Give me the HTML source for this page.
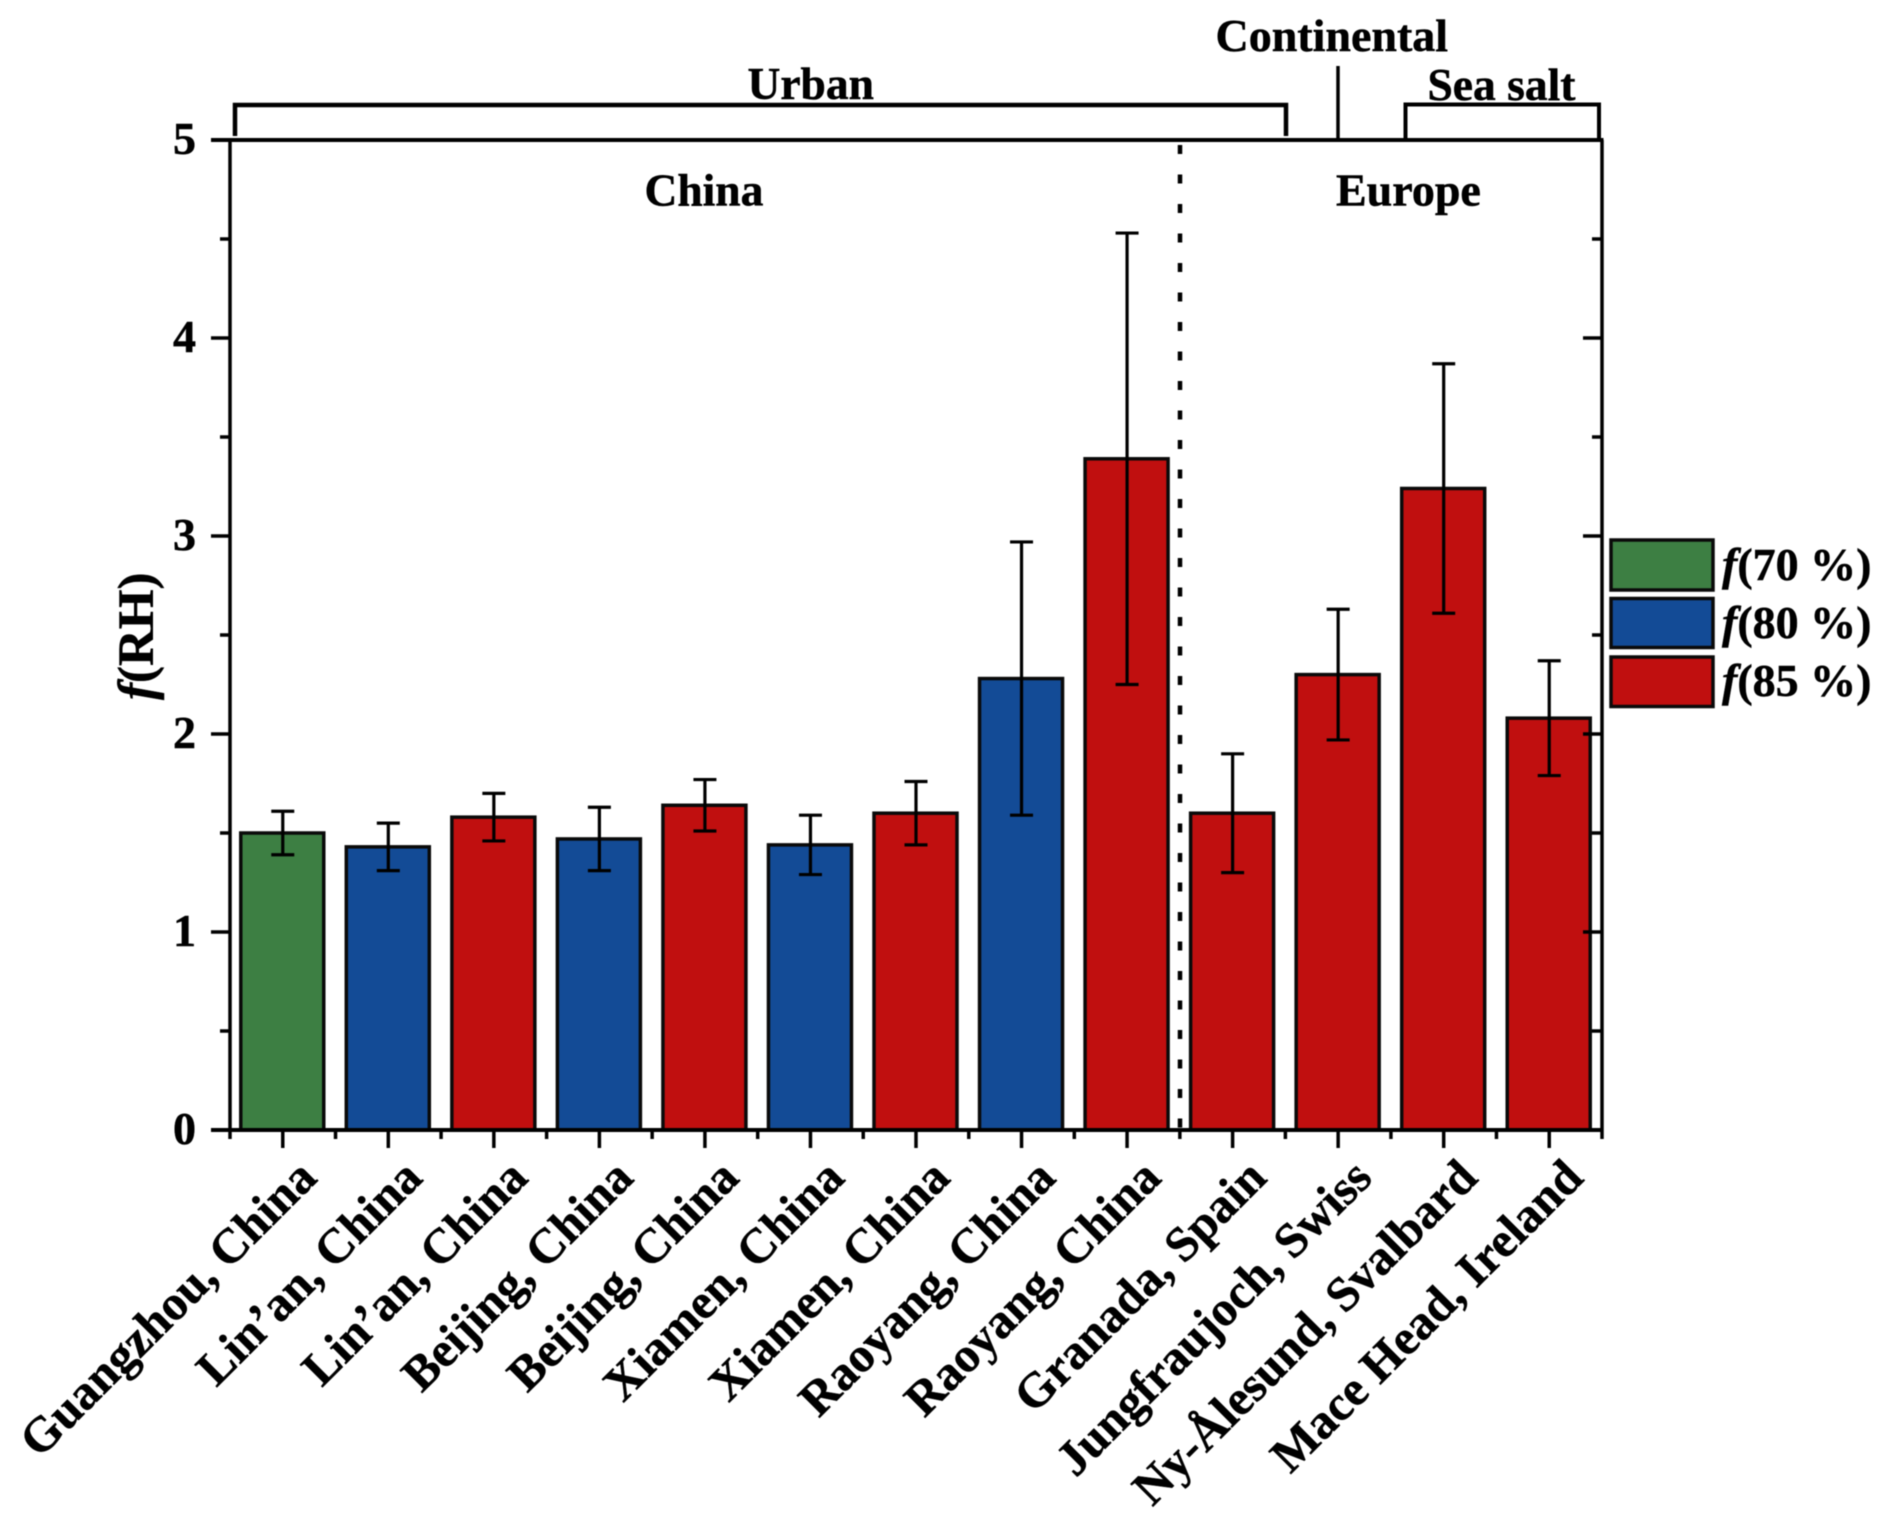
<!DOCTYPE html>
<html lang="en">
<head>
<meta charset="utf-8">
<title>f(RH) by site</title>
<style>
html,body{margin:0;padding:0;background:#fff;width:1892px;height:1530px;overflow:hidden}
svg{display:block;filter:blur(0.5px)}
text{font-family:"Liberation Serif",serif;font-weight:bold;fill:#000;stroke:#000;stroke-width:0.5px}
</style>
</head>
<body>
<svg id="chart" width="1892" height="1530" viewBox="0 0 1892 1530" xmlns="http://www.w3.org/2000/svg">
  <g id="bars"></g>
  <g id="errors"></g>
  <line x1="1180" y1="145" x2="1180" y2="1130" stroke="#000" stroke-width="4.500" stroke-dasharray="9 20.5"/>
  <g id="axes"></g>

  <g fill="none" stroke="#000">
    <path d="M235 136V105H1286V136" stroke-width="4.500"/>
    <line x1="1338" y1="66" x2="1338" y2="140" stroke-width="3.500"/>
    <path d="M1405.500 140V104.500H1599V140" stroke-width="4"/>
  </g>
  <text x="747.500" y="99" font-size="45.500">Urban</text>
  <text x="1215.500" y="51" font-size="46">Continental</text>
  <text x="1427.500" y="100" font-size="45.500">Sea salt</text>
  <text x="644.500" y="205.500" font-size="45.500">China</text>
  <text x="1336" y="205.500" font-size="46">Europe</text>

  <text transform="translate(153 700) rotate(-90)" font-size="51"><tspan font-style="italic">f</tspan>(RH)</text>

  <g>
    <g>
      <rect x="1611" y="540" width="102" height="50" fill="#3d7f43" stroke="#0a0a0a" stroke-width="3.500"/>
      <text x="1722" y="580" font-size="46"><tspan font-style="italic">f</tspan>(70 %)</text>
    </g>
    <g>
      <rect x="1611" y="598.500" width="102" height="49" fill="#134b96" stroke="#0a0a0a" stroke-width="3.500"/>
      <text x="1722" y="638" font-size="46"><tspan font-style="italic">f</tspan>(80 %)</text>
    </g>
    <g>
      <rect x="1611" y="657" width="102" height="49.500" fill="#c00f0f" stroke="#0a0a0a" stroke-width="3.500"/>
      <text x="1722" y="696" font-size="46"><tspan font-style="italic">f</tspan>(85 %)</text>
    </g>
  </g>
</svg>
<script>
const categories = ["Guangzhou, China","Lin’an, China","Lin’an, China","Beijing, China","Beijing, China","Xiamen, China","Xiamen, China","Raoyang, China","Raoyang, China","Granada, Spain","Jungfraujoch, Swiss","Ny-Ålesund, Svalbard","Mace Head, Ireland"];
const rhLevels = [70,80,85,80,85,80,85,80,85,85,85,85,85];
const values = [1.50,1.43,1.58,1.47,1.64,1.44,1.60,2.28,3.39,1.60,2.30,3.24,2.08];
const errorUpper = [1.61,1.55,1.70,1.63,1.77,1.59,1.76,2.97,4.53,1.90,2.63,3.87,2.37];
const errorLower = [1.39,1.31,1.46,1.31,1.51,1.29,1.44,1.59,2.25,1.30,1.97,2.61,1.79];
const yTickLabels = [0,1,2,3,4,5];
const yMinorTicks = [0.5,1.5,2.5,3.5,4.5];
const colorByLevel = {70:"#3d7f43",80:"#134b96",85:"#c00f0f"};

const NS = "http://www.w3.org/2000/svg";
const plot = {left:230,right:1602,top:140,bottom:1130,yMax:5};
const band = (plot.right - plot.left) / categories.length;
function xCenter(i){ return plot.left + band * (i + 0.5); }
function xEdge(i){ return plot.left + band * i; }
function yPos(v){ return plot.bottom - (v / plot.yMax) * (plot.bottom - plot.top); }
function make(parent, tag, attrs){
  const el = document.createElementNS(NS, tag);
  for (const k in attrs) el.setAttribute(k, attrs[k]);
  parent.appendChild(el);
  return el;
}
const barsG = document.getElementById("bars");
const errG = document.getElementById("errors");
const axesG = document.getElementById("axes");
const BAR_W = 83;
const CAP = 11.5;

categories.forEach(function(name, i){
  const cx = xCenter(i);
  const rect = make(barsG, "rect", {x:cx - 0.5 - BAR_W/2, y:yPos(values[i]), width:BAR_W, height:plot.bottom - yPos(values[i]), fill:colorByLevel[rhLevels[i]], stroke:"#0a0a0a", "stroke-width":3.5});
  
  

  const err = make(errG, "path", {d:"M"+(cx-CAP)+" "+yPos(errorUpper[i])+"H"+(cx+CAP)+"M"+cx+" "+yPos(errorUpper[i])+"V"+yPos(errorLower[i])+"M"+(cx-CAP)+" "+yPos(errorLower[i])+"H"+(cx+CAP), fill:"none", stroke:"#000", "stroke-width":3.2});
  
  

  const tick = make(axesG, "line", {x1:cx, y1:plot.bottom, x2:cx, y2:plot.bottom + 18, stroke:"#000", "stroke-width":3.5});
  
  

  const label = make(axesG, "text", {transform:"translate("+(cx + 36)+" "+(plot.bottom + 50)+") rotate(-45)", "text-anchor":"end", "font-size":49});
  label.textContent = name;
  
  
});

for (let i = 0; i <= categories.length; i++){
  const t = make(axesG, "line", {x1:xEdge(i), y1:plot.bottom, x2:xEdge(i), y2:plot.bottom + 9, stroke:"#000", "stroke-width":3.5});
  
  
}

yTickLabels.forEach(function(v){
  const y = yPos(v);
  const left = make(axesG, "line", {x1:plot.left - 19, y1:y, x2:plot.left, y2:y, stroke:"#000", "stroke-width":3.5});
  
  
  const right = make(axesG, "line", {x1:plot.right - 19, y1:y, x2:plot.right, y2:y, stroke:"#000", "stroke-width":3.5});
  
  
  const label = make(axesG, "text", {x:196, y:y + 14, "text-anchor":"end", "font-size":46});
  label.textContent = v;
  
  
});
yMinorTicks.forEach(function(v){
  const y = yPos(v);
  const left = make(axesG, "line", {x1:plot.left - 10, y1:y, x2:plot.left, y2:y, stroke:"#000", "stroke-width":3.5});
  
  
  const right = make(axesG, "line", {x1:plot.right - 10, y1:y, x2:plot.right, y2:y, stroke:"#000", "stroke-width":3.5});
  
  
});

const frame = make(axesG, "path", {d:"M"+plot.left+" "+plot.top+"V"+plot.bottom+"M"+plot.right+" "+plot.top+"V"+plot.bottom, fill:"none", stroke:"#000", "stroke-width":3.5});


const topLine = make(axesG, "line", {x1:plot.left - 19, y1:plot.top, x2:plot.right + 1.5, y2:plot.top, stroke:"#000", "stroke-width":4});


const baseLine = make(axesG, "line", {x1:plot.left - 19, y1:plot.bottom, x2:plot.right + 1.5, y2:plot.bottom, stroke:"#000", "stroke-width":4});


</script>
</body>
</html>
